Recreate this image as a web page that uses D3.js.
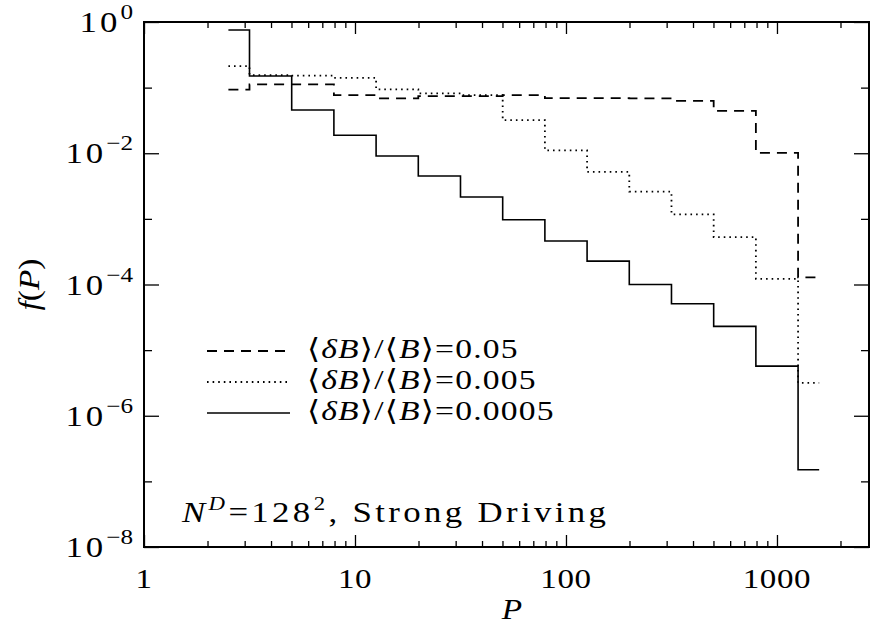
<!DOCTYPE html>
<html><head><meta charset="utf-8">
<script src="https://cdn.jsdelivr.net/npm/d3@7"></script>
<style>body{margin:0;background:#fff}svg{display:block}</style>
</head><body>
<svg id="c" width="870" height="625"></svg>
<script>
// ---- data ----
const P = [2.512, 3.981, 6.310, 10.0, 15.85, 25.12, 39.81, 63.10, 100.0, 158.5, 251.2, 398.1, 631.0, 1000, 1585];
const fDashed = [0.093, 0.112, 0.112, 0.0768, 0.0684, 0.074, 0.074, 0.0768, 0.069, 0.069, 0.0684, 0.0629, 0.0443, 0.0101, 0.000128];
const fDotted = [0.213, 0.155, 0.152, 0.141, 0.094, 0.082, 0.077, 0.0319, 0.0111, 0.00519, 0.0026, 0.00117, 0.000527, 0.000122, 3.16e-6];
const fSolid  = [0.755, 0.15, 0.0455, 0.0188, 0.0091, 0.0045, 0.00215, 0.00097, 0.00046, 0.000227, 0.0001, 5.1e-5, 2.3e-5, 5.7e-6, 1.5e-7];
const seriesNames = ["0.05", "0.005", "0.0005"];
const xMajor = [1, 10, 100, 1000];
const xMajorLabels = ["1", "10", "100", "1000"];
const yMajor = [1, 1e-2, 1e-4, 1e-6, 1e-8];
const yMajorExp = ["0", "\u22122", "\u22124", "\u22126", "\u22128"];
const yMinor = [1e-1, 1e-3, 1e-5, 1e-7];

const svg = d3.select("#c");
const L = 144, R = 869, T = 22, B = 547;
const x = d3.scaleLog().domain([1, 2730]).range([L, R]);
const y = d3.scaleLog().domain([1e-8, 1]).range([B, T]);
const serif = "'Liberation Serif','DejaVu Serif',serif";

const xMinor = [];
for (let d = 1; d <= 1000; d *= 10) for (let k = 2; k <= 9; k++) if (d * k <= 2730) xMinor.push(d * k);

function styleAxis(g) {
  g.select(".domain").remove();
  g.selectAll(".tick line").attr("stroke", "#000").attr("stroke-width", 1.3);
  g.selectAll(".tick text").remove();
}
svg.append("g").attr("transform", `translate(0,${B})`).call(d3.axisBottom(x).tickValues(xMajor).tickSize(-12).tickFormat("")).call(styleAxis);
svg.append("g").attr("transform", `translate(0,${B})`).call(d3.axisBottom(x).tickValues(xMinor).tickSize(-6).tickFormat("")).call(styleAxis);
svg.append("g").attr("transform", `translate(0,${T})`).call(d3.axisTop(x).tickValues(xMajor).tickSize(-12).tickFormat("")).call(styleAxis);
svg.append("g").attr("transform", `translate(0,${T})`).call(d3.axisTop(x).tickValues(xMinor).tickSize(-6).tickFormat("")).call(styleAxis);
svg.append("g").attr("transform", `translate(${L},0)`).call(d3.axisLeft(y).tickValues(yMajor).tickSize(-15).tickFormat("")).call(styleAxis);
svg.append("g").attr("transform", `translate(${L},0)`).call(d3.axisLeft(y).tickValues(yMinor).tickSize(-8).tickFormat("")).call(styleAxis);
svg.append("g").attr("transform", `translate(${R},0)`).call(d3.axisRight(y).tickValues(yMajor).tickSize(-15).tickFormat("")).call(styleAxis);
svg.append("g").attr("transform", `translate(${R},0)`).call(d3.axisRight(y).tickValues(yMinor).tickSize(-8).tickFormat("")).call(styleAxis);

svg.append("rect").attr("x", L).attr("y", T).attr("width", R - L).attr("height", B - T)
  .attr("fill", "none").attr("stroke", "#000").attr("stroke-width", 2);

// text helper: horizontally widened serif text
function stext(px, py, anchor, size, sx, rot) {
  const g = svg.append("g").attr("transform", `translate(${px},${py})${rot ? ` rotate(${rot})` : ""} scale(${sx},1)`);
  return g.append("text").attr("text-anchor", anchor).attr("font-family", serif).attr("font-size", size);
}

// x tick labels
xMajor.forEach((v, i) => {
  stext(x(v), 588, "middle", 28, 1.18).attr("letter-spacing", 0.5).text(xMajorLabels[i]);
});

// y tick labels
yMajor.forEach((v, i) => {
  const t = stext(133, y(v) + 10, "end", 29, 1.2);
  t.append("tspan").attr("letter-spacing", 2.5).text("10");
  t.append("tspan").attr("dy", -13).attr("font-size", 21).text(yMajorExp[i]);
});

// axis titles
stext(512, 619, "middle", 29, 1.15).attr("font-style", "italic").text("P");
stext(39, (T + B) / 2, "middle", 29, 1.15, -90)
  .call(t => { t.append("tspan").attr("font-style", "italic").text("f"); t.append("tspan").text("("); t.append("tspan").attr("font-style", "italic").text("P"); t.append("tspan").text(")"); });

// series
const dashes = ["10,7", "1.6,4", null];
const widths = [1.8, 1.8, 1.6];
const data = [fDashed, fDotted, fSolid];
const line = d3.line().x((d, i) => x(P[i])).y(d => y(d)).curve(d3.curveStep);
data.forEach((s, k) => {
  svg.append("path").attr("d", line(s)).attr("fill", "none").attr("stroke", "#000")
    .attr("stroke-width", widths[k]).attr("stroke-dasharray", dashes[k]);
});

// legend
const legY = [351, 382, 413];
seriesNames.forEach((nm, k) => {
  svg.append("line").attr("x1", 207).attr("x2", 290).attr("y1", legY[k]).attr("y2", legY[k])
    .attr("stroke", "#000").attr("stroke-width", widths[k]).attr("stroke-dasharray", dashes[k]);
  const t = stext(307, legY[k] + 7, "start", 28, 1.2).attr("letter-spacing", 1);
  t.append("tspan").text("\u27E8");
  t.append("tspan").attr("font-style", "italic").text("\u03B4B");
  t.append("tspan").text("\u27E9/\u27E8");
  t.append("tspan").attr("font-style", "italic").text("B");
  t.append("tspan").text("\u27E9=" + nm);
});

// annotation
const ann = stext(182, 522, "start", 29, 1.2).attr("letter-spacing", 2.8);
ann.append("tspan").attr("font-style", "italic").text("N");
ann.append("tspan").attr("dy", -12).attr("font-size", 19).attr("font-style", "italic").text("D");
ann.append("tspan").attr("dy", 12).text("=128");
ann.append("tspan").attr("dy", -12).attr("font-size", 19).text("2");
ann.append("tspan").attr("dy", 12).text(", Strong Driving");
</script>
</body></html>
